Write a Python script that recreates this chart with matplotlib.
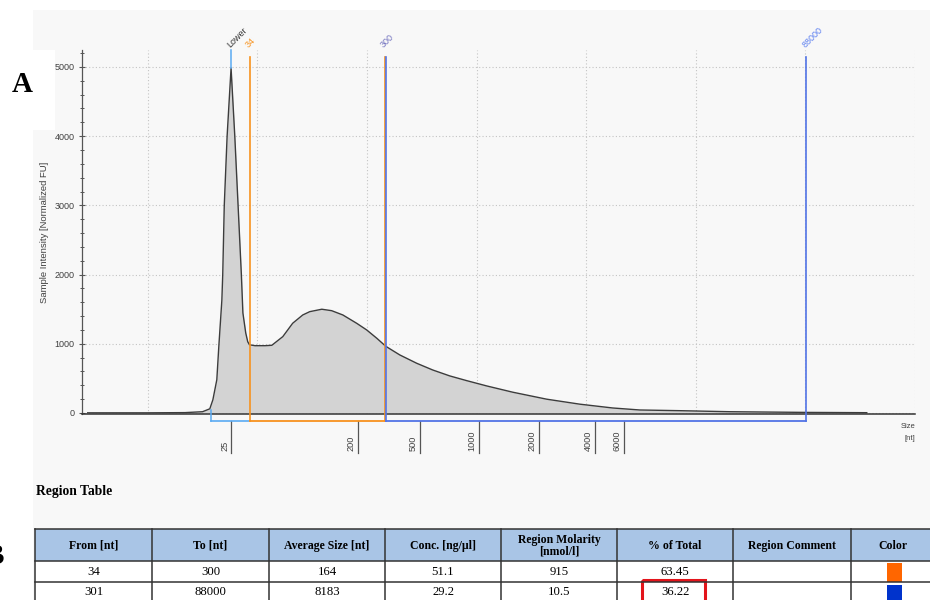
import numpy as np
import matplotlib
matplotlib.use("Agg")
import matplotlib.pyplot as plt
from matplotlib.patches import Rectangle
from matplotlib import transforms

plt.rcParams['font.family'] = ['Liberation Sans', 'DejaVu Sans']

# ---- electropherogram trace (migration time [s] vs. fluorescence [FU]) ----
trace_time = [17.26, 20.0, 21.7, 22.5, 22.83, 22.97, 23.15, 23.24, 23.38, 23.42,
              23.49, 23.62, 23.8, 23.97, 24.12, 24.27, 24.34, 24.47, 24.56, 24.64,
              24.9, 25.35, 25.66, 26.16, 26.61, 27.07, 27.39, 27.94, 28.39, 28.9,
              29.53, 29.99, 30.45, 30.86, 31.5, 32.27, 33.0, 33.78, 34.55, 35.47,
              36.65, 38.2, 39.71, 41.21, 42.45, 44.27, 46.55, 50.05, 52.8]
trace_fu = [2, 2, 5, 18, 60, 190, 480, 955, 1630, 2000,
            3000, 4000, 4985, 4000, 3000, 2000, 1445, 1155, 1030, 985,
            972, 972, 978, 1103, 1296, 1416, 1464, 1499, 1478, 1416,
            1296, 1199, 1079, 963, 838, 718, 621, 535, 467, 390,
            300, 199, 127, 72, 43, 33, 18, 8, 4]

# ---- size calibration (nt <-> migration time) ----
cal_nt = [25, 200, 500, 1000, 2000, 4000, 6000, 88000]
cal_time = [23.8, 29.57, 32.41, 35.1, 37.84, 40.4, 41.72, 50.05]
ladder_nt = [25, 200, 500, 1000, 2000, 4000, 6000]
lower_marker_nt = 25
lower_window_start_s = 22.87

# ---- region table ----
from_nt = [34, 301]
to_nt = [300, 88000]
avg_size = [164, 8183]
conc = [51.1, 29.2]
molarity = [915, 10.5]
pct_total = [63.45, 36.22]
region_colors = ['#ff6600', '#0033cc']
region_line_colors = ['#f7921e', '#5274e6']
headers = ["From [nt]", "To [nt]", "Average Size [nt]", "Conc. [ng/\u00b5l]",
           "Region Molarity\n[nmol/l]", "% of Total", "Region Comment", "Color"]


def size_to_time(nt):
    return float(np.interp(np.log10(nt), np.log10(cal_nt), cal_time))


W, H = 930, 600
fig = plt.figure(figsize=(W / 100, H / 100), dpi=100)
fig.patch.set_facecolor('white')

# full-figure canvas in pixel units (y downwards)
cv = fig.add_axes([0, 0, 1, 1], zorder=0)
cv.set_xlim(0, W)
cv.set_ylim(H, 0)
cv.axis('off')
panel = '#f8f8f8'
cv.add_patch(Rectangle((33, 10), W - 33, H - 10, facecolor=panel, edgecolor='none'))
cv.add_patch(Rectangle((0, 50), 55, 80, facecolor='white', edgecolor='none'))
cv.text(22, 84, "A", family='Liberation Serif', weight='bold', fontsize=21,
        ha='center', va='center', color='black')
cv.text(4, 557, "B", family='Liberation Serif', weight='bold', fontsize=21,
        ha='right', va='center', color='black', clip_on=False)

# ---- main plot ----
ax_l, ax_r, ax_t, ax_b = 82, 915, 50, 414
ax = fig.add_axes([ax_l / W, (H - ax_b) / H, (ax_r - ax_l) / W, (ax_b - ax_t) / H], zorder=1)
ax.set_facecolor('none')
ax.set_xlim(17, 55)
ax.set_ylim(-15, 5245)

ax.set_xticks(np.arange(20, 56, 5))
ax.tick_params(axis='x', length=0, labelbottom=False)
ax.set_yticks([0, 1000, 2000, 3000, 4000, 5000])
ax.set_yticks(np.arange(0, 5201, 200), minor=True)
ax.tick_params(axis='y', which='major', direction='inout', length=5, width=0.8,
               color='#555555', labelsize=6.5, labelcolor='#404040', pad=3)
ax.tick_params(axis='y', which='minor', direction='inout', length=3, width=0.7,
               color='#555555')
ax.grid(True, which='major', color='#c4c4c4', linestyle=(0, (1, 2)), linewidth=0.8)
ax.set_axisbelow(True)
for s in ('top', 'right'):
    ax.spines[s].set_visible(False)
ax.spines['left'].set_color('#555555')
ax.spines['left'].set_linewidth(0.9)
ax.spines['bottom'].set_color('#333333')
ax.spines['bottom'].set_linewidth(1.1)
ax.set_ylabel("Sample Intensity [Normalized FU]", fontsize=6.8, color='#404040', labelpad=4)

ax.fill_between(trace_time, trace_fu, 0, color='#d3d3d3', linewidth=0, zorder=2)
ax.plot(trace_time, trace_fu, color='#3c3c3c', linewidth=1.0, zorder=3)

xt = ax.get_xaxis_transform()
top_frac = 1 - 7 / (ax_b - ax_t)
bot_frac = -7 / (ax_b - ax_t)

# lower marker
t_low = size_to_time(lower_marker_nt)
t_34 = size_to_time(from_nt[0])
low_col = '#5aaaf2'
ax.plot([t_low, t_low], [max(trace_fu), 5245], color=low_col, lw=1.1, zorder=4, clip_on=False)
ax.plot([lower_window_start_s, lower_window_start_s], [bot_frac, 0.012], transform=xt,
        color=low_col, lw=1.1, clip_on=False, zorder=4)
ax.plot([lower_window_start_s, t_34], [bot_frac, bot_frac], transform=xt,
        color=low_col, lw=1.2, clip_on=False, zorder=4)

# region markers and brackets
for i in range(2):
    t0 = size_to_time(from_nt[i])
    t1 = size_to_time(to_nt[i])
    if i == 1:
        t0 += 0.04
    c = region_line_colors[i]
    ax.plot([t0, t0], [bot_frac, top_frac], transform=xt, color=c, lw=1.2,
            clip_on=False, zorder=5)
    ax.plot([t1, t1], [bot_frac, top_frac], transform=xt, color=c, lw=1.2,
            clip_on=False, zorder=5)
    ax.plot([t0, t1], [bot_frac, bot_frac], transform=xt, color=c, lw=1.3,
            clip_on=False, zorder=5)

# marker labels at the top
lab_tr = transforms.offset_copy(xt, fig=fig, x=-3, y=4, units='dots')
marker_labels = [(t_low, "Lower", '#333333'),
                 (t_34, str(from_nt[0]), '#f7921e'),
                 (size_to_time(to_nt[0]), str(to_nt[0]), '#7474c0'),
                 (size_to_time(to_nt[1]), str(to_nt[1]), '#5c7ff0')]
for t, s, c in marker_labels:
    ax.text(t, 1.0, s, transform=lab_tr, rotation=45, rotation_mode='anchor',
            ha='left', va='center', fontsize=6.5, color=c, clip_on=False)

# size ticks below the axis
tick_top = (ax_b - 421) / (ax_b - ax_t)
tick_bot = (ax_b - 453) / (ax_b - ax_t)
lbl_tr = transforms.offset_copy(xt, fig=fig, x=-2, y=0, units='dots')
for nt in ladder_nt:
    t = size_to_time(nt)
    ax.plot([t, t], [tick_top, tick_bot], transform=xt, color='#555555', lw=0.9,
            clip_on=False)
    ax.text(t, (ax_b - 451) / (ax_b - ax_t), str(nt), transform=lbl_tr, rotation=90,
            rotation_mode='anchor', ha='left', va='bottom', fontsize=6.6,
            color='#404040', clip_on=False)

cv.text(915, 426, "Size", ha='right', va='center', fontsize=5.5, color='#404040')
cv.text(915, 438, "[nt]", ha='right', va='center', fontsize=5.5, color='#404040')

# ---- region table ----
cv.text(36, 492, "Region Table", family='Liberation Serif', weight='bold',
        fontsize=9.8, ha='left', va='center', color='black')
col_x = [35, 152, 269, 385, 501, 617, 733, 851, 940]
row_y = [529, 561, 582, 604]
cv.add_patch(Rectangle((col_x[0], row_y[0]), col_x[-1] - col_x[0], row_y[1] - row_y[0],
                       facecolor='#a9c5e6', edgecolor='none'))
cv.add_patch(Rectangle((col_x[0], row_y[1]), col_x[-1] - col_x[0], row_y[-1] - row_y[1],
                       facecolor='white', edgecolor='none'))
for x in col_x[:-1]:
    cv.plot([x, x], [row_y[0], row_y[-1]], color='#333333', lw=1.1)
for y in row_y[:-1]:
    cv.plot([col_x[0], col_x[-1]], [y, y], color='#333333', lw=1.1)
for j, h in enumerate(headers):
    cv.text((col_x[j] + col_x[j + 1]) / 2 if j < 7 else 893, 546, h,
            family='Liberation Serif', weight='bold', fontsize=8.5,
            ha='center', va='center', linespacing=1.0, color='black')
rows = [[str(from_nt[i]), str(to_nt[i]), str(avg_size[i]), f"{conc[i]:.1f}",
         f"{molarity[i]:g}", f"{pct_total[i]:.2f}"] for i in range(2)]
row_cy = [572, 592]
for i, r in enumerate(rows):
    for j, v in enumerate(r):
        cv.text((col_x[j] + col_x[j + 1]) / 2, row_cy[i], v, family='Liberation Serif',
                fontsize=9.2, ha='center', va='center', color='black')
cv.add_patch(Rectangle((887, 563), 15, 19, facecolor=region_colors[0], edgecolor='none'))
cv.add_patch(Rectangle((887, 585), 15, 19, facecolor=region_colors[1], edgecolor='none'))
cv.add_patch(Rectangle((642, 580), 63, 25, facecolor='none', edgecolor='#e3141b',
                       lw=2.2, clip_on=False))

fig.savefig("out.png", dpi=100, facecolor='white')
